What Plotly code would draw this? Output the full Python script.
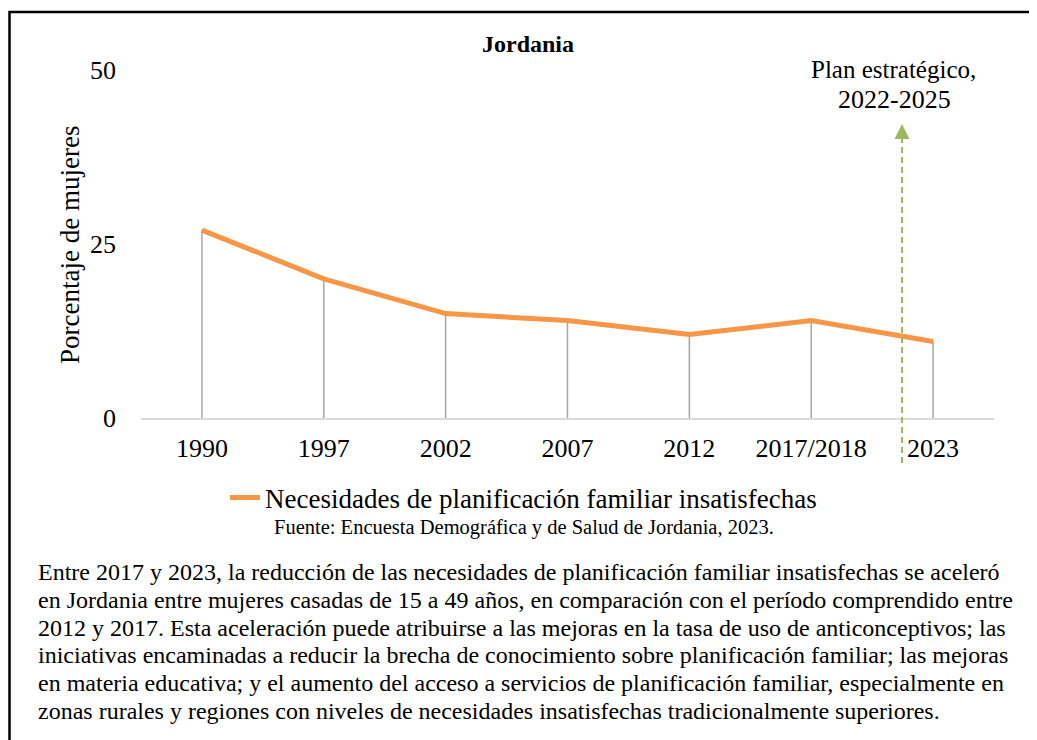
import plotly.graph_objects as go

# ---- data ----
categories = ["1990", "1997", "2002", "2007", "2012", "2017/2018", "2023"]
unmet_need = [27, 20, 15, 14, 12, 14, 11]
series_name = "Necesidades de planificación familiar insatisfechas"
y_ticks = [0, 25, 50]
title_text = "Jordania"
y_title = "Porcentaje de mujeres"
plan_lines = ["Plan estratégico,", "2022-2025"]
source_text = "Fuente: Encuesta Demográfica y de Salud de Jordania, 2023."
paragraph_lines = [
    "Entre 2017 y 2023, la reducción de las necesidades de planificación familiar insatisfechas se aceleró",
    "en Jordania entre mujeres casadas de 15 a 49 años, en comparación con el período comprendido entre",
    "2012 y 2017. Esta aceleración puede atribuirse a las mejoras en la tasa de uso de anticonceptivos; las",
    "iniciativas encaminadas a reducir la brecha de conocimiento sobre planificación familiar; las mejoras",
    "en materia educativa; y el aumento del acceso a servicios de planificación familiar, especialmente en",
    "zonas rurales y regiones con niveles de necesidades insatisfechas tradicionalmente superiores.",
]

# the page body has an 8px margin; the figure is sized to fill the rest of the window
OFF = 8
W, H = 1037 - OFF, 740 - OFF
# plot area in screen pixels: x 141..994, y 70..418
SX0, SX1, SY0, SY1 = 141, 994, 70, 418
L, R, T = SX0 - OFF, (1037 - SX1), SY0 - OFF
B = H - (SY1 - OFF)
PW, PH = SX1 - SX0, SY1 - SY0
FONT = "Liberation Serif, Times New Roman, serif"


def px(x):
    return (x - SX0) / PW


def py(y):
    return (SY1 - y) / PH


# drop lines from each point to zero
drop_x, drop_y = [], []
for c, v in zip(categories, unmet_need):
    drop_x += [c, c, None]
    drop_y += [0, v, None]

fig = go.Figure()
fig.add_trace(go.Scatter(
    x=drop_x, y=drop_y, mode="lines",
    line=dict(color="#A6A6A6", width=1.5),
    showlegend=False, hoverinfo="skip",
))
fig.add_trace(go.Scatter(
    x=categories, y=unmet_need, mode="lines", name=series_name,
    line=dict(color="#F79646", width=5),
))

shapes = [
    # outer frame (open to right/bottom)
    dict(type="rect", xref="paper", yref="paper",
         x0=px(9.5), x1=px(1060), y0=py(770), y1=py(12),
         line=dict(color="black", width=2.5)),
    # strategic plan dashed line
    dict(type="line", xref="paper", yref="paper",
         x0=px(902), x1=px(902), y0=py(463), y1=py(138),
         line=dict(color="#9BBB59", width=2, dash="6px,4px")),
    # arrow head
    dict(type="path", xref="paper", yref="paper",
         path=f"M {px(894.5)},{py(139)} L {px(909.5)},{py(139)} L {px(902)},{py(124)} Z",
         fillcolor="#9BBB59", line=dict(color="#9BBB59", width=0)),
]

annotations = [
    dict(text=f"<b>{title_text}</b>", xref="paper", yref="paper",
         x=px(528), y=py(44), showarrow=False, xanchor="center", yanchor="middle",
         font=dict(family=FONT, size=24, color="black")),
    dict(text=y_title, xref="paper", yref="paper", textangle=-90,
         x=px(70), y=py(245), showarrow=False, xanchor="center", yanchor="middle",
         font=dict(family=FONT, size=27, color="black")),
    dict(text=plan_lines[0], xref="paper", yref="paper",
         x=px(893), y=py(69), showarrow=False, xanchor="center", yanchor="middle",
         font=dict(family=FONT, size=25, color="black")),
    dict(text=plan_lines[1], xref="paper", yref="paper",
         x=px(894), y=py(100), showarrow=False, xanchor="center", yanchor="middle",
         font=dict(family=FONT, size=26, color="black")),
    dict(text=source_text, xref="paper", yref="paper",
         x=px(524), y=py(527), showarrow=False, xanchor="center", yanchor="middle",
         font=dict(family=FONT, size=20.5, color="black")),
]
for i, line in enumerate(paragraph_lines):
    annotations.append(dict(
        text=line, xref="paper", yref="paper",
        x=px(36), y=py(572 + i * 27.8), showarrow=False,
        xanchor="left", yanchor="middle",
        font=dict(family=FONT, size=24, color="black")))

fig.update_layout(
    width=W, height=H,
    margin=dict(l=L, r=R, t=T, b=B, autoexpand=False),
    paper_bgcolor="white", plot_bgcolor="white",
    font=dict(family=FONT, size=26, color="black"),
    xaxis=dict(
        type="category", range=[-0.5, 6.5],
        showgrid=False, zeroline=False,
        showline=True, linecolor="#D9D9D9", linewidth=1.5,
        ticks="", tickfont=dict(family=FONT, size=26, color="black"),
        ticklabelstandoff=6,
    ),
    yaxis=dict(
        range=[0, 50], tickvals=y_ticks, showgrid=False, zeroline=False,
        showline=False, ticks="", tickfont=dict(family=FONT, size=26, color="black"),
        ticklabelstandoff=24,
    ),
    showlegend=True,
    legend=dict(
        orientation="h", xref="paper", yref="paper",
        x=px(225), y=py(498), xanchor="left", yanchor="middle",
        font=dict(family=FONT, size=27, color="black"),
        bgcolor="rgba(0,0,0,0)", borderwidth=0,
    ),
    shapes=shapes, annotations=annotations,
)

fig.write_html("out.html")
